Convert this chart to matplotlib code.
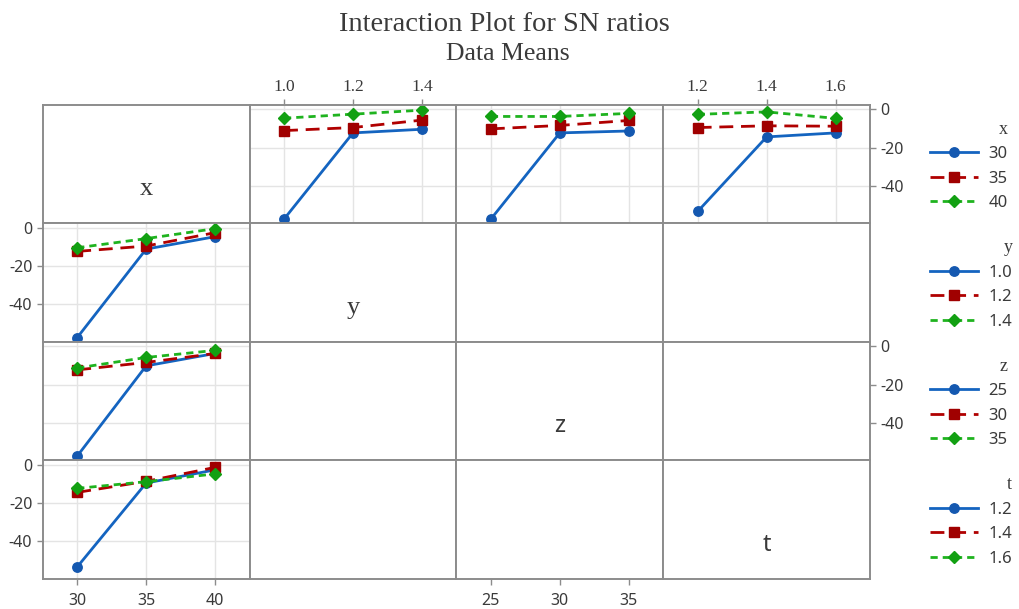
import numpy as np
import matplotlib.pyplot as plt
from matplotlib.lines import Line2D

factors = ['x', 'y', 'z', 't']
x_levels = [30, 35, 40]
y_levels = [1.0, 1.2, 1.4]
z_levels = [25, 30, 35]
t_levels = [1.2, 1.4, 1.6]
x_labels = ['30', '35', '40']
y_labels = ['1.0', '1.2', '1.4']
z_labels = ['25', '30', '35']
t_labels = ['1.2', '1.4', '1.6']

# mean SN ratios, rows = x level, columns = level of the other factor
x_y_means = [[-57.4, -12.3, -10.4],
             [-11.1, -9.5, -5.6],
             [-4.6, -2.5, -0.4]]
x_z_means = [[-57.4, -12.3, -11.3],
             [-10.2, -8.4, -5.8],
             [-3.7, -3.7, -2.1]]
x_t_means = [[-53.4, -14.4, -12.3],
             [-9.5, -8.6, -8.8],
             [-2.6, -1.3, -4.7]]

levels = {'x': x_levels, 'y': y_levels, 'z': z_levels, 't': t_levels}
labels = {'x': x_labels, 'y': y_labels, 'z': z_labels, 't': t_labels}
pair_means = {('x', 'y'): x_y_means, ('x', 'z'): x_z_means, ('x', 't'): x_t_means}

colors = ['#1464c0', '#b00000', '#1fb31f']
markers = ['o', 's', 'D']
mcolors = ['#1458b0', '#a00000', '#12a012']
styles = ['-', (0, (5, 2.8)), (0, (2.6, 1.8))]
msizes = [6.8, 6.8, 6.5]

serif = 'Liberation Serif'
sans = 'Noto Sans'
border = '#8c8c8c'
txt = '#3a3a3a'


def get_means(line_f, axis_f):
    if (line_f, axis_f) in pair_means:
        return np.array(pair_means[(line_f, axis_f)])
    if (axis_f, line_f) in pair_means:
        return np.array(pair_means[(axis_f, line_f)]).T
    return None


fig, axes = plt.subplots(4, 4, figsize=(10.2, 6.09), dpi=100,
                         gridspec_kw=dict(hspace=0, wspace=0))
fig.subplots_adjust(left=0.0419, right=0.853, top=0.8276, bottom=0.0493)

ylim = (-59.7, 2.3)
yticks = [0, -20, -40]

for i, rf in enumerate(factors):
    for j, cf in enumerate(factors):
        ax = axes[i][j]
        lv = levels[cf]
        step = lv[1] - lv[0]
        ax.set_xlim(lv[0] - step / 2, lv[-1] + step / 2)
        ax.set_ylim(*ylim)
        ax.set_xticks(lv)
        ax.set_xticklabels(labels[cf])
        ax.set_yticks(yticks)
        ax.set_yticklabels([str(v) for v in yticks])
        for sp in ax.spines.values():
            sp.set_color(border)
            sp.set_linewidth(1.4)
        ax.tick_params(axis='both', length=0, labelbottom=False, labelleft=False,
                       labeltop=False, labelright=False, colors=txt, labelsize=11.5,
                       direction='out')

        if i == j:
            if rf in ('x', 'y'):
                ax.text(0.5, 0.29, rf, transform=ax.transAxes, ha='center', va='center',
                        fontsize=19, family=serif, color=txt)
            else:
                ax.text(0.5, 0.29, rf, transform=ax.transAxes, ha='center', va='center',
                        fontsize=17, family=sans, color=txt)
            continue

        m = get_means(rf, cf)
        if m is None:
            continue
        ax.grid(True, color='#e4e4e4', linewidth=1.0)
        ax.set_axisbelow(True)
        for k in range(3):
            ax.plot(lv, m[k], color=colors[k], linestyle=styles[k], linewidth=2.0,
                    marker=markers[k], markersize=msizes[k], markerfacecolor=mcolors[k],
                    markeredgecolor=mcolors[k])

# alternating tick labels, Minitab style
tk = dict(length=4, color=border, width=1.0, labelcolor=txt)
axes[0][1].tick_params(axis='x', top=True, bottom=False, labeltop=True, pad=3, **tk)
axes[0][3].tick_params(axis='x', top=True, bottom=False, labeltop=True, pad=3, **tk)
axes[3][0].tick_params(axis='x', bottom=True, top=False, labelbottom=True, pad=6, **tk)
axes[3][2].tick_params(axis='x', bottom=True, top=False, labelbottom=True, pad=6, **tk)
axes[1][0].tick_params(axis='y', left=True, right=False, labelleft=True, **tk)
axes[3][0].tick_params(axis='y', left=True, right=False, labelleft=True, **tk)
axes[0][3].tick_params(axis='y', right=True, left=False, labelright=True, **tk)
axes[2][3].tick_params(axis='y', right=True, left=False, labelright=True, **tk)

for ax in (axes[0][1], axes[0][3]):
    for lab in ax.get_xticklabels():
        lab.set_family(serif)
        lab.set_fontsize(12.5)
for ax in (axes[3][0], axes[3][2]):
    for lab in ax.get_xticklabels():
        lab.set_family(sans)
for ax in (axes[1][0], axes[3][0], axes[0][3], axes[2][3]):
    for lab in ax.get_yticklabels():
        lab.set_family(sans)

# one legend per row
row_tops = [0.8276 - r * (0.8276 - 0.0493) / 4 for r in range(4)]
for i, rf in enumerate(factors):
    handles = [Line2D([], [], color=colors[k], linestyle=styles[k], linewidth=2.0,
                      marker=markers[k], markersize=msizes[k],
                      markerfacecolor=mcolors[k], markeredgecolor=mcolors[k])
               for k in range(3)]
    leg = axes[i][3].legend(handles, labels[rf], title=rf, loc='upper left',
                            bbox_to_anchor=(0.912, row_tops[i] - 0.026),
                            bbox_transform=fig.transFigure, frameon=False,
                            alignment='right', borderpad=0, borderaxespad=0,
                            handlelength=2.85, handletextpad=0.65, labelspacing=0.51,
                            prop=dict(family=sans, size=12),
                            title_fontproperties=dict(family=serif, size=13))
    for t in leg.get_texts():
        t.set_color(txt)
    leg.get_title().set_color(txt)

fig.text(0.494, 0.960, 'Interaction Plot for SN ratios', ha='center', va='center',
         fontsize=20.5, family=serif, color=txt)
fig.text(0.498, 0.912, 'Data Means', ha='center', va='center',
         fontsize=18.5, family=serif, color=txt)

fig.savefig('out.png', dpi=100)
